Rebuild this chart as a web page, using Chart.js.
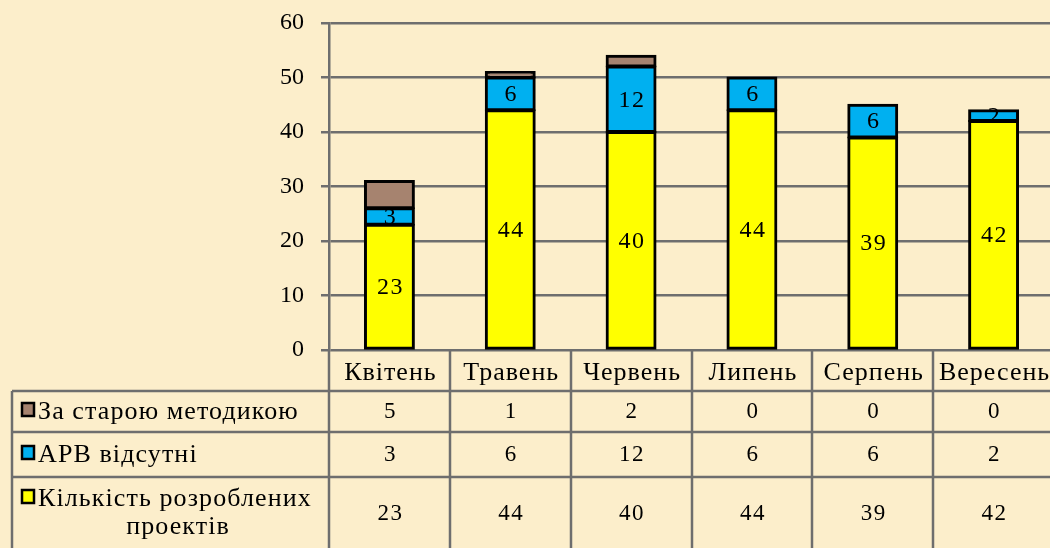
<!DOCTYPE html>
<html><head><meta charset="utf-8">
<script src="https://cdn.jsdelivr.net/npm/chart.js@4.4.0/dist/chart.umd.min.js"></script>
<style>
html,body{margin:0;padding:0;background:#FCEECB;overflow:hidden;width:1050px;height:548px}
#wrap{position:absolute;left:0;top:0;width:1060px;height:548px}
</style></head><body>
<div id="wrap"><canvas id="c" width="1060" height="548"></canvas></div>
<script>
const categories = ['Квітень','Травень','Червень','Липень','Серпень','Вересень'];
const oldMethod = [5,1,2,0,0,0];
const noArv = [3,6,12,6,6,2];
const developed = [23,44,40,44,39,42];
const seriesNames = ['За старою методикою','АРВ відсутні','Кількість розроблених проектів'];
const yMin = 0, yMax = 60, yStep = 10;

const FONT = 'Liberation Serif';
const GRID = '#6E6E6E';
const colors = {old:'#A6836F', arv:'#00B0F0', dev:'#FFFF00'};

const labelPlugin = {
  id:'segLabels',
  afterDatasetsDraw(chart){
    const ctx = chart.ctx;
    ctx.save();
    ctx.font = '24px "' + FONT + '"';
    ctx.letterSpacing = '1.5px';
    ctx.fillStyle = '#000';
    ctx.textAlign = 'center';
    ctx.textBaseline = 'middle';
    chart.data.datasets.forEach((ds, di) => {
      if (!ds.showValues) return;
      chart.getDatasetMeta(di).data.forEach((el, i) => {
        const v = ds.data[i];
        if (!v) return;
        const cy = (el.y + el.base) / 2;
        ctx.fillText(String(v), el.x + 1, cy + 1);
      });
    });
    ctx.restore();
  }
};

const tablePlugin = {
  id:'dataTable',
  afterDraw(chart){
    const ctx = chart.ctx;
    const ca = chart.chartArea;
    const n = categories.length;
    const cw = (ca.right - ca.left) / n;
    const top = ca.bottom;
    const rowLines = [top + 41, top + 82, top + 127];
    const bottom = 560;
    const tableLeft = 12;
    ctx.save();
    ctx.strokeStyle = GRID;
    ctx.lineWidth = 2.5;
    for (let i = 0; i <= n; i++) {
      const x = Math.round(ca.left + i * cw);
      ctx.beginPath(); ctx.moveTo(x, top); ctx.lineTo(x, bottom); ctx.stroke();
    }
    ctx.beginPath(); ctx.moveTo(tableLeft, rowLines[0]); ctx.lineTo(tableLeft, bottom); ctx.stroke();
    rowLines.forEach(y => {
      ctx.beginPath(); ctx.moveTo(tableLeft, y); ctx.lineTo(ca.right + 10, y); ctx.stroke();
    });
    ctx.fillStyle = '#000';
    ctx.textAlign = 'center';
    ctx.textBaseline = 'middle';
    ctx.letterSpacing = '1px';
    ctx.font = '26px "' + FONT + '"';
    categories.forEach((c, i) => ctx.fillText(c, ca.left + (i + 0.5) * cw + 1, top + 23));
    const rows = [
      {name:[seriesNames[0]], vals:oldMethod, color:colors.old, cy: top + 62},
      {name:[seriesNames[1]], vals:noArv, color:colors.arv, cy: top + 105},
      {name:['Кількість розроблених','проектів'], vals:developed, color:colors.dev, cy: top + 164}
    ];
    rows.forEach((r, ri) => {
      ctx.font = '23px "' + FONT + '"';
      ctx.letterSpacing = '1.5px';
      ctx.textAlign = 'center';
      ctx.fillStyle = '#000';
      r.vals.forEach((v, i) => ctx.fillText(String(v), ca.left + (i + 0.5) * cw + 1, r.cy));
      const ly = ri === 2 ? top + 149 : r.cy;
      ctx.fillStyle = r.color;
      ctx.fillRect(22, ly - 9, 12, 13);
      ctx.strokeStyle = '#000';
      ctx.lineWidth = 2.5;
      ctx.strokeRect(22, ly - 9, 12, 13);
      ctx.fillStyle = '#000';
      ctx.font = '26px "' + FONT + '"';
      ctx.letterSpacing = '1.1px';
      ctx.textAlign = 'left';
      ctx.fillText(r.name[0], 38, ly);
      if (r.name[1]) {
        ctx.textAlign = 'center';
        ctx.fillText(r.name[1], 178, ly + 28);
      }
    });
    ctx.restore();
  }
};

Chart.defaults.font.family = FONT;
Chart.defaults.font.size = 23;
Chart.defaults.color = '#000';

const barCommon = {borderColor:'#000', borderWidth:3, borderSkipped:false, inflateAmount:1,
                   barPercentage:0.405, categoryPercentage:1};

new Chart(document.getElementById('c'), {
  type:'bar',
  data:{
    labels:categories,
    datasets:[
      Object.assign({label:seriesNames[2], data:developed, backgroundColor:colors.dev, showValues:true}, barCommon),
      Object.assign({label:seriesNames[1], data:noArv, backgroundColor:colors.arv, showValues:true}, barCommon),
      Object.assign({label:seriesNames[0], data:oldMethod, backgroundColor:colors.old, showValues:false}, barCommon)
    ]
  },
  options:{
    responsive:false,
    animation:false,
    layout:{padding:{left:0, top:0, right:6, bottom:198}},
    plugins:{legend:{display:false}, tooltip:{enabled:false}},
    scales:{
      x:{display:false, stacked:true},
      y:{
        stacked:true, min:yMin, max:yMax,
        ticks:{stepSize:yStep, padding:17, font:{size:24, family:FONT}, color:'#000'},
        grid:{color:GRID, lineWidth:2.5, tickLength:8},
        border:{color:GRID, width:2.5},
        afterFit(scale){ scale.width = 329; scale.paddingTop = 23; scale.paddingBottom = 0; }
      }
    }
  },
  plugins:[labelPlugin, tablePlugin]
});
</script>
</body></html>
